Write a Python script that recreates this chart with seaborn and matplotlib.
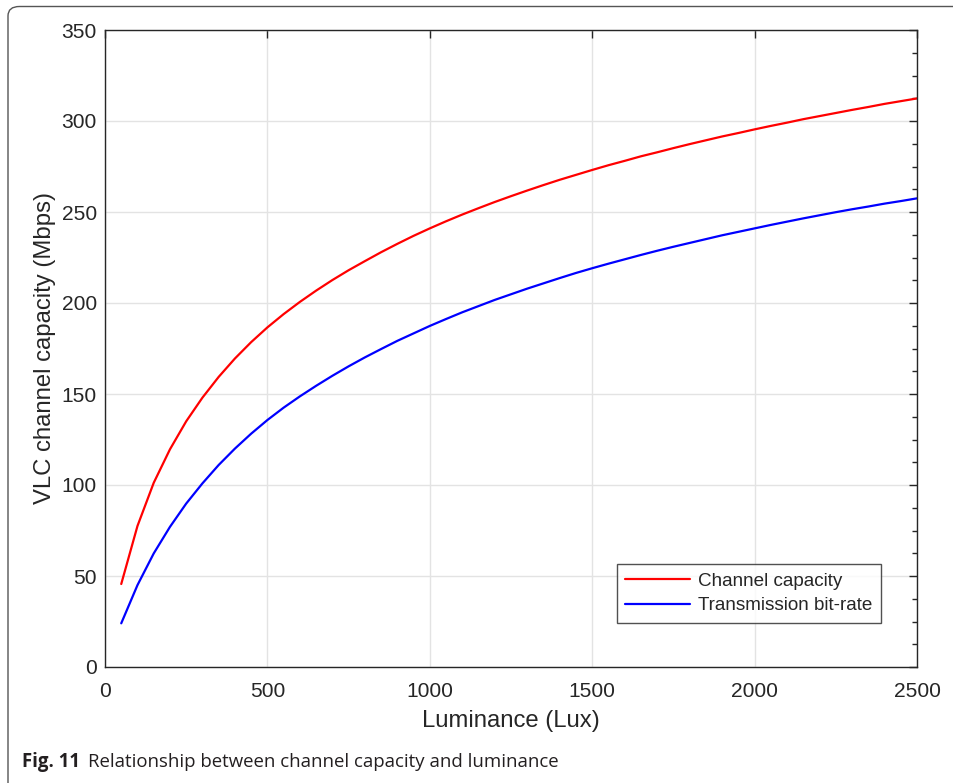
import numpy as np
import pandas as pd
import matplotlib
matplotlib.use("Agg")
import matplotlib.pyplot as plt
from matplotlib.patches import FancyBboxPatch
from matplotlib.ticker import MultipleLocator
import seaborn as sns

# ---- data ----
luminance = list(range(50, 2501, 50))
channel_capacity = [
    45.6, 77.5, 101.2, 119.6, 135.0, 148.0, 159.4, 169.5, 178.5, 186.6,
    193.9, 200.6, 206.8, 212.6, 218.0, 223.0, 227.9, 232.5, 236.9, 241.0,
    244.9, 248.6, 252.1, 255.5, 258.7, 261.8, 264.8, 267.7, 270.4, 273.1,
    275.7, 278.1, 280.6, 282.8, 285.1, 287.3, 289.4, 291.5, 293.4, 295.4,
    297.3, 299.1, 301.0, 302.7, 304.4, 306.1, 307.7, 309.4, 310.9, 312.4,
]
transmission_bitrate = [
    24.0, 45.0, 62.4, 77.0, 89.8, 100.9, 111.0, 120.0, 128.2, 135.7,
    142.5, 148.7, 154.5, 160.0, 165.2, 170.1, 174.7, 179.2, 183.3, 187.4,
    191.2, 194.9, 198.3, 201.7, 204.8, 207.9, 210.8, 213.7, 216.5, 219.1,
    221.6, 224.0, 226.4, 228.7, 230.9, 233.0, 235.1, 237.2, 239.1, 241.0,
    242.9, 244.7, 246.5, 248.2, 249.9, 251.5, 253.0, 254.6, 256.0, 257.5,
]
series_names = ["Channel capacity", "Transmission bit-rate"]
series_colors = ["#ff0000", "#0000ff"]
x_ticks = [0, 500, 1000, 1500, 2000, 2500]
y_ticks = [0, 50, 100, 150, 200, 250, 300, 350]
x_label = "Luminance (Lux)"
y_label = "VLC channel capacity (Mbps)"
caption_bold = "Fig. 11"
caption_text = "Relationship between channel capacity and luminance"

df = pd.DataFrame({
    "Luminance": luminance * 2,
    "Value": channel_capacity + transmission_bitrate,
    "Series": [series_names[0]] * len(luminance) + [series_names[1]] * len(luminance),
})

sns.set_style("white")
plt.rcParams["font.family"] = ["Liberation Sans", "DejaVu Sans"]

W, H = 954, 783
fig = plt.figure(figsize=(W / 100, H / 100), dpi=100)
ax = fig.add_axes([105 / W, 1 - 667 / H, (917 - 105) / W, (667 - 30) / H])

sns.lineplot(data=df, x="Luminance", y="Value", hue="Series",
             palette=dict(zip(series_names, series_colors)),
             linewidth=1.6, ax=ax, legend=True)

ax.set_xlim(0, 2500)
ax.set_ylim(0, 350)
ax.set_xticks(x_ticks)
ax.set_yticks(y_ticks)
ax.set_xticklabels([str(t) for t in x_ticks])
ax.set_yticklabels([str(t) for t in y_ticks])
ax.yaxis.set_minor_locator(MultipleLocator(12.5))

dark = "#262626"
ax.grid(True, which="major", color="#e3e3e3", linewidth=1.0)
ax.set_axisbelow(True)
for s in ax.spines.values():
    s.set_visible(True)
    s.set_color(dark)
    s.set_linewidth(1.0)

ax.tick_params(which="both", direction="in", top=True, right=True,
               colors=dark, labelcolor=dark)
ax.tick_params(which="major", length=6, width=1.0, labelsize=15.1)
ax.tick_params(axis="x", which="major", pad=11)
ax.tick_params(axis="y", which="major", pad=6)
ax.tick_params(which="minor", length=3.5, width=1.0)
ax.tick_params(axis="x", which="minor", bottom=False, top=False)

ax.set_xlabel(x_label, fontsize=17.2, color=dark, labelpad=6)
ax.set_ylabel(y_label, fontsize=17.2, color=dark, labelpad=4)

leg = ax.legend(loc="lower right", bbox_to_anchor=(881 / W, 1 - 623 / H),
                bbox_transform=fig.transFigure, fontsize=13.6, frameon=True,
                fancybox=False, edgecolor=dark, handlelength=3.4,
                handletextpad=0.45, borderpad=0.45, labelspacing=0.38,
                borderaxespad=0)
leg.get_frame().set_linewidth(1.0)
for line in leg.get_lines():
    line.set_linewidth(1.6)

# outer rounded frame
frame = FancyBboxPatch((8 / W, -0.05), 1.2, 1 - 6.5 / H + 0.05,
                       boxstyle="round,pad=0,rounding_size=0.012",
                       transform=fig.transFigure, fill=False,
                       edgecolor="#555555", linewidth=1.0)
fig.add_artist(frame)

# caption
t1 = fig.text(22 / W, 1 - 762 / H, caption_bold, fontsize=13.4,
              fontweight="bold", family=["Open Sans", "DejaVu Sans"],
              va="center", ha="left", color="#231f20")
fig.canvas.draw()
bb = t1.get_window_extent()
fig.text((bb.x1 + 8) / W, 1 - 762 / H, caption_text, fontsize=13.4,
         family=["Open Sans", "DejaVu Sans"], va="center", ha="left",
         color="#231f20")

fig.savefig("out.png", dpi=100)
